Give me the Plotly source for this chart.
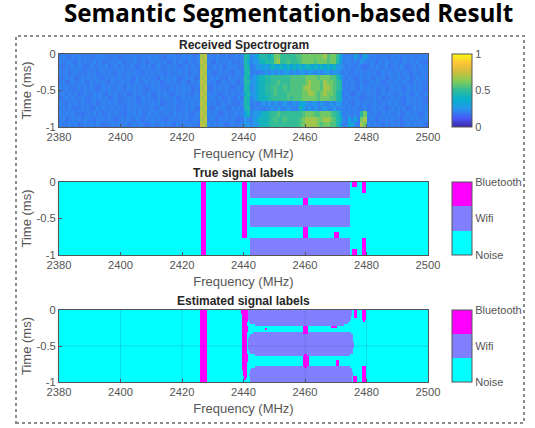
import numpy as np
import plotly.graph_objects as go

# ---------- text ----------
main_title = "Semantic Segmentation-based Result"
panel_titles = ["Received Spectrogram", "True signal labels", "Estimated signal labels"]
freq_ticks = [2380, 2400, 2420, 2440, 2460, 2480, 2500]
time_ticks = [0, -0.5, -1]
time_tick_labels = ["0", "-0.5", "-1"]
class_ticks = [0, 1, 2]
class_labels = ["Noise", "Wifi", "Bluetooth"]

# ---------- spectrogram, read by eye: 1 MHz columns from 2380, 14 time rows from 0 to -1 ----------
# blocks: 2380-2425 | 2426-2427 | 2428-2439 | 2440-2441 | 2442-2444 | 2445-2471 | 2472-2499
level_values = dict(zip("abcdefghijklm", [.16, .18, .195, .215, .26, .33, .42, .47, .51, .55, .60, .68, .72]))
block_sizes = [46, 2, 12, 2, 3, 27, 28]
spec_rows = [
    "cdcbdcdccdbcdcdcccdbcdccdcbdcdcdccbdcdccdcdcbd lm cdcdccdbcdcd hg def hhhghkkiiiiijjkkkkkkkljkkif dcdcfdcfdcdccdcbdcdcdcdccdcd",
    "dccdcbdcdccdcdbccdcdcbdcdccdbcdcdcdbcdcdcbdccd ml dcbdcdcdcccd hf dee gghhhkliijiiijkkkkjkkkjkkhf cddcdcedcdcbdcdccdcbdcdcdccb",
    "cbdcdcdcbcdccdcdbcdcdccdcbcdcdbcdccdcdcbcdcdcc lm ccdcdbcdcdcc hg cde efefgffgfgfgfgfggfgfgfgfgee dcdccdcbcdcdccdbcdcdcbcdcdcd",
    "dcdbcdcccdcdbcdcdcbdccdcdccbdcdcdcbdcccdcdbcdc ml dcbcdcdcbcdc gh cdc ddedededeededeedeededeedeed cdcbdcdcdcdbcdcdccdcdcbdccdc",
    "ccdcdbcdcdcdccbdcdcdccdcbdcdcdccbdcdcdcbcdcdbc lm cdcdccbdcdcd hg def gghhiiiiiijjjjjkkkkjkkkjjhf dcdcbcdcdccdcdbcdcdccdbcdcdc",
    "cdbcdccdcbdcdcdcbdccdcdbcdccdcdcdbcdcdccdcbdcd ml dcdbcdccdcbd hh eef gghhiijiiijjjjjklkkkjlkkjih cdcdccdbcdcdcbcdcdccdcbdcdcc",
    "dcdccbdcdcdcbcdcdccdcbdcdcdcbcdcdccbdcdcdcdbcc lm cbdcdcdcbcdc hg def gghiijiijijjjjkllkkkjllkjih dccdcbdcdcdccdbcdcdcbdcdcdcb",
    "cdcdcdbcdccdcdcbdcdccdbcdcdccdbcdcdcbcdcdccbdc ml dcdcbcdcdccd gh eef gghhijiiijjjjjkkllkjklkkjhg cdcbcdccdcdbcdcdcccdcdbcdccd",
    "bcdcdccdcbcdcdcdbcdcccdcdbcdcdcbdcdccdbcdcdcdc lm cdccdbcdcbdc hg def ggghiiiiijijjjkkkkkjkkkjjhg dcdcdcbcdcdcdbccdcdcbdcdcdcb",
    "dcbdcdcdcccdbcdcdcdbccdcdcbdccdcdbcdcdcbcdcdcd ml dcdbcdcdccbd hg cdc dedededdeddedffedeededdedee cdcbcdcdccdcbdcdcdccbdcdcdcc",
    "cdcdcbcdcdbcdcdccdcdcbdcdcdcccdbcdcdcdbccdcdcb lm cbcdcdcbdcdc gh cdd dcddededdedddgfdededdeddedd dcdcdccdbcdcdcbcdcdcdbcdcdcd",
    "dcdcdccbcdcdcdbcdcdccbdcdcdbcdcdccdcbdcdcdcbcd ml dcdcbcdccdcd fg dee fgghiijiiiiiiijkkkjjkkkjihf cddcdchkdcdcbdcdccdbcdcdcbcd",
    "cdbcdcdcdccbdcdcdcbcdcdccdcbdcdcdcbcdccdcdbcdc lm cdcbdcdcdcbc ed def ggghijiijiiiijkllllkkllkjhg dcfdfcklcdcbdcdcdccbdcdcdccd",
    "dccdcdbcdcdcdcbccdcdcdbcdcdcbcdccdcdcbdcdcdcdb ml dcdcdcbcdccd ee dee ggghiiiiiiiiijkllllkjkkjjhf cdffdclkdcdccbdcdcdbcdcdcdcb",
]

# ---------- true labels: band and burst limits, MHz and ms ----------
true_wifi_freq = [2442.0, 2474.7]
true_wifi_times = [(0, -0.225), (-0.315, -0.61), (-0.77, -1)]
true_bt_bursts = [
    (2426.2, 2427.7, 0, -1),
    (2439.6, 2441.2, 0, -0.77),
    (2459.3, 2461.0, -0.225, -0.315),
    (2459.3, 2461.0, -0.61, -0.77),
    (2469.5, 2470.9, -0.69, -0.77),
    (2475.4, 2476.8, 0, -0.075),
    (2475.4, 2476.8, -0.92, -1),
    (2478.5, 2479.9, 0, -0.15),
    (2478.5, 2479.9, -0.77, -1),
]

# ---------- estimated labels: 36 time rows; per-row wifi limits, None = no wifi ----------
_ = None
est_wifi_start = [2441.6, 2441.5, 2441.5, 2441.6, 2441.6, 2441.8, 2442.2, 2443.5, _, _, _,
                  2443.0, 2442.0, 2441.7, 2441.6, 2441.5, 2441.5, 2441.5, 2441.6, 2441.6, 2441.8, 2442.2, 2443.5,
                  _, _, _, _, _,
                  2443.5, 2442.4, 2442.0, 2441.9, 2441.8, 2441.9, 2442.0, 2442.0]
est_wifi_end = [2475.3, 2475.3, 2475.2, 2475.0, 2474.9, 2474.6, 2474.0, 2472.5, _, _, _,
                2475.0, 2475.5, 2475.6, 2475.6, 2475.6, 2475.7, 2475.7, 2475.7, 2475.6, 2475.6, 2475.5, 2474.5,
                _, _, _, _, _,
                2474.5, 2475.2, 2475.4, 2475.5, 2475.5, 2475.4, 2475.3, 2475.2]
est_bt2_start = [2439.2, 2439.2, 2439.3, 2439.3, 2439.4, 2439.3, 2439.3, 2439.4, 2439.5, 2439.4, 2439.4, 2439.4,
                 2439.3, 2439.3, 2439.4, 2439.4, 2439.4, 2439.4, 2439.3, 2439.3, 2439.4, 2439.4, 2439.3, 2439.3,
                 2439.3, 2439.3, 2439.4, 2439.5, 2439.6, 2439.6, 2439.7, 2439.7, 2439.8, 2439.9, 2440.0, _]
est_bt2_end = [2441.5, 2441.4, 2441.3, 2441.3, 2441.3, 2441.3, 2441.2, 2441.2, 2441.3, 2441.3, 2441.3, 2441.2,
               2441.2, 2441.2, 2441.2, 2441.2, 2441.2, 2441.2, 2441.2, 2441.2, 2441.2, 2441.2, 2441.3, 2441.3,
               2441.3, 2441.3, 2441.2, 2441.2, 2441.1, 2441.0, 2441.0, 2441.0, 2441.0, 2440.9, 2440.8, _]
# (first row, last row, from MHz, to MHz)
est_bt_bursts = [
    (0, 35, 2426.0, 2427.9),
    (8, 11, 2459.4, 2461.0),
    (22, 22, 2459.8, 2460.8), (23, 27, 2459.3, 2461.3), (28, 28, 2459.8, 2460.8),
    (25, 27, 2470.0, 2470.9),
    (8, 8, 2468.5, 2470.3), (9, 9, 2447.0, 2447.7),
    (0, 3, 2475.7, 2476.9),
    (33, 35, 2475.5, 2477.0),
    (0, 4, 2478.4, 2480.0), (5, 5, 2478.8, 2479.6),
    (28, 35, 2478.3, 2480.0),
]

# ---------- style ----------
W, H = 535, 428
AX_L, AX_R, CB_L = 59, 428, 452
PANELS = [(54, 127), (182, 255), (310, 382)]
FONT = "Liberation Sans"
TXT = "#555555"
parula = [[0, "rgb(62,38,168)"], [.125, "rgb(71,91,249)"], [.25, "rgb(39,150,235)"], [.375, "rgb(6,175,205)"],
          [.5, "rgb(45,187,155)"], [.625, "rgb(129,204,89)"], [.75, "rgb(204,190,60)"], [.875, "rgb(254,195,56)"],
          [1, "rgb(249,251,20)"]]
classes = [[0, "#00ffff"], [1/3, "#00ffff"], [1/3, "#8080ff"], [2/3, "#8080ff"], [2/3, "#ff00ff"], [1, "#ff00ff"]]

# ---------- build matrices ----------
spec_z = []
for row in spec_rows:
    parts = [p[:n].ljust(n, "c") for p, n in zip(row.split(), block_sizes)]
    spec_z.append([level_values[c] for c in "".join(parts)])
spec_x = np.arange(2380, 2501)
spec_y = np.linspace(0, -1, len(spec_rows) + 1)

t_edges = sorted({0.0, -1.0, *[v for b in true_wifi_times for v in b], *[v for b in true_bt_bursts for v in b[2:]]}, reverse=True)
f_edges = sorted({2380.0, 2500.0, *true_wifi_freq, *[v for b in true_bt_bursts for v in b[:2]]})
true_z = np.zeros((len(t_edges) - 1, len(f_edges) - 1), dtype=int)
t_mid = (np.array(t_edges[:-1]) + np.array(t_edges[1:])) / 2
f_mid = (np.array(f_edges[:-1]) + np.array(f_edges[1:])) / 2
for t0, t1 in true_wifi_times:
    true_z[np.ix_((t_mid < t0) & (t_mid > t1), (f_mid > true_wifi_freq[0]) & (f_mid < true_wifi_freq[1]))] = 1
for f0, f1, t0, t1 in true_bt_bursts:
    true_z[np.ix_((t_mid < t0) & (t_mid > t1), (f_mid > f0) & (f_mid < f1))] = 2

est_f = np.arange(2380, 2500.01, 0.2)
est_fm = (est_f[:-1] + est_f[1:]) / 2
est_t = np.linspace(0, -1, 37)
est_z = np.zeros((36, len(est_fm)), dtype=int)
for r in range(36):
    if est_wifi_start[r] is not None:
        est_z[r, (est_fm > est_wifi_start[r]) & (est_fm < est_wifi_end[r])] = 1
    if est_bt2_start[r] is not None:
        est_z[r, (est_fm > est_bt2_start[r]) & (est_fm < est_bt2_end[r])] = 2
for r0, r1, f0, f1 in est_bt_bursts:
    est_z[r0:r1 + 1, (est_fm > f0) & (est_fm < f1)] = 2

# ---------- figure ----------
fig = go.Figure()
def colorbar(top, bottom, **kw):
    return dict(x=CB_L / W, xanchor="left", y=1 - (top + bottom) / 2 / H, yanchor="middle",
                len=(bottom - top) / H, lenmode="fraction", thickness=20, thicknessmode="pixels",
                xpad=0, ypad=0, outlinecolor="#555555", outlinewidth=1, ticks="",
                tickfont=dict(family=FONT, size=11, color=TXT), **kw)

fig.add_trace(go.Heatmap(x=spec_x, y=spec_y, z=spec_z, colorscale=parula, zmin=0, zmax=1, xaxis="x", yaxis="y",
                         colorbar=colorbar(*PANELS[0], tickvals=[0, .5, 1], ticktext=["0", "0.5", "1"])))
fig.add_trace(go.Heatmap(x=f_edges, y=t_edges, z=true_z, colorscale=classes, zmin=0, zmax=2, xaxis="x2", yaxis="y2",
                         colorbar=colorbar(*PANELS[1], tickvals=class_ticks, ticktext=class_labels)))
fig.add_trace(go.Heatmap(x=est_f, y=est_t, z=est_z, colorscale=classes, zmin=0, zmax=2, xaxis="x3", yaxis="y3",
                         colorbar=colorbar(*PANELS[2], tickvals=class_ticks, ticktext=class_labels)))

axis_font = dict(family=FONT, size=11.2, color=TXT)
title_font = dict(family=FONT, size=13, color=TXT)
for i, (top, bottom) in enumerate(PANELS, start=1):
    sx = "" if i == 1 else str(i)
    fig.update_layout({
        f"xaxis{sx}": dict(domain=[AX_L / W, AX_R / W], anchor=f"y{sx}", range=[2380, 2500], tickvals=freq_ticks,
                           ticks="inside", ticklen=3, tickcolor="#555555", showline=True, mirror=True, linecolor="#555555",
                           linewidth=1, showgrid=False, zeroline=False, tickfont=axis_font,
                           title=dict(text="Frequency (MHz)", font=title_font, standoff=6)),
        f"yaxis{sx}": dict(domain=[1 - bottom / H, 1 - top / H], anchor=f"x{sx}", range=[-1, 0], tickvals=time_ticks,
                           ticktext=time_tick_labels, ticks="inside", ticklen=3, tickcolor="#555555", showline=True,
                           mirror=True, linecolor="#555555", linewidth=1, showgrid=False, zeroline=False, tickfont=axis_font,
                           title=dict(text="Time (ms)", font=title_font, standoff=1)),
    })

annotations = [dict(text=f"<b>{main_title}</b>", x=288 / W, y=1 - 12 / H, xref="paper", yref="paper", xanchor="center",
                    yanchor="middle", showarrow=False, font=dict(family="Open Sans", size=24.2, color="#000000"))]
for text, (top, _b) in zip(panel_titles, PANELS):
    annotations.append(dict(text=f"<b>{text}</b>", x=(AX_L + AX_R) / 2 / W, y=1 - (top - 9) / H, xref="paper", yref="paper",
                            xanchor="center", yanchor="middle", showarrow=False,
                            font=dict(family=FONT, size=12, color="#262626")))

shapes = [dict(type="rect", xref="paper", yref="paper", x0=16 / W, x1=524 / W, y0=1 - 423 / H, y1=1 - 36 / H,
               line=dict(color="#8c8c8c", width=2, dash="3px,3px"), layer="below")]
grid = dict(color="rgba(60,60,120,0.18)", width=1)
for v in freq_ticks[1:-1]:
    shapes.append(dict(type="line", xref="x3", yref="y3 domain", x0=v, x1=v, y0=0, y1=1, line=grid, layer="above"))
shapes.append(dict(type="line", xref="x3 domain", yref="y3", x0=0, x1=1, y0=-0.5, y1=-0.5, line=grid, layer="above"))

fig.update_layout(width=W, height=H, margin=dict(l=0, r=0, t=0, b=0, autoexpand=False), paper_bgcolor="white",
                  plot_bgcolor="white", showlegend=False, annotations=annotations, shapes=shapes)

fig.write_html("out.html", config=dict(displayModeBar=False),
               post_script="document.body.style.margin='0';document.documentElement.style.overflow='hidden';")
